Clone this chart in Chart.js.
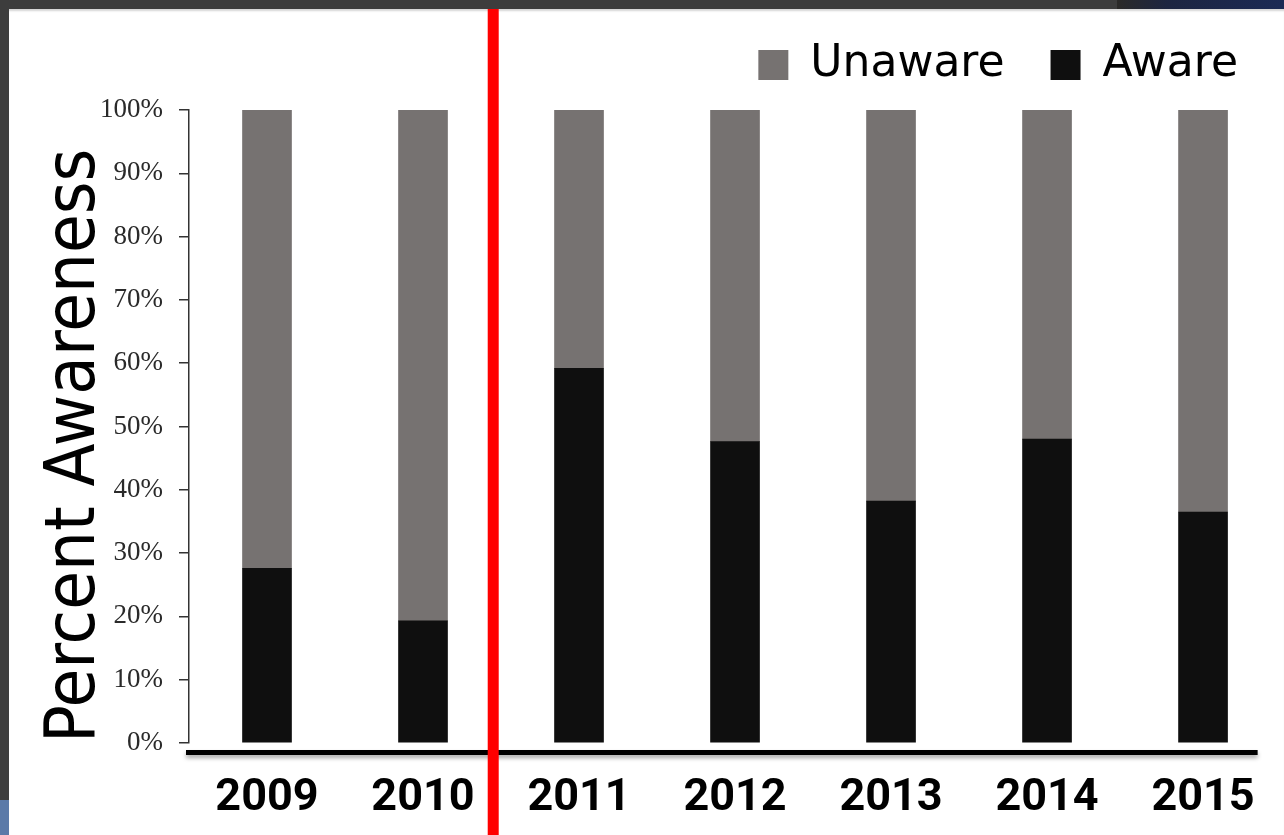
<!DOCTYPE html>
<html>
<head>
<meta charset="utf-8">
<script src="https://cdn.jsdelivr.net/npm/chart.js@4"></script>
<style>
  html, body { margin: 0; padding: 0; }
  body { width: 1284px; height: 835px; background: #3d3d3d; position: relative; overflow: hidden; }
  .strip { position: absolute; left: 0; top: 800px; width: 9px; height: 35px; background: #5b7aa8; }
  .corner { position: absolute; left: 1117px; top: 0; width: 167px; height: 9px; background: linear-gradient(90deg, #2b2a28, #1d2540 30%, #1b2a55); }
  .panel { position: absolute; left: 9px; top: 9px; right: 0; bottom: 0; background: #fff; box-shadow: inset 0 3px 2px -1px #d6d6d6; }
  #chart { position: absolute; left: 0; top: 0; }
</style>
</head>
<body>
<div class="strip"></div>
<div class="corner"></div>
<div class="panel"></div>
<canvas id="chart" width="1284" height="835"></canvas>
<script>
const years = ["2009", "2010", "2011", "2012", "2013", "2014", "2015"];
const aware = [27.6, 19.3, 59.2, 47.6, 38.2, 48.0, 36.5];
const unaware = [72.4, 80.7, 40.8, 52.4, 61.8, 52.0, 63.5];
const yTicks = [0, 10, 20, 30, 40, 50, 60, 70, 80, 90, 100];

const condensed = "'DejaVu Sans Condensed', 'DejaVu Sans', sans-serif";

// thick base line + red divider
const decor = {
  id: "decor",
  afterDatasetsDraw(chart) {
    const { ctx, chartArea, scales } = chart;
    const x = scales.x;
    ctx.save();
    ctx.shadowColor = "rgba(0,0,0,0.35)";
    ctx.shadowBlur = 4;
    ctx.shadowOffsetY = 3;
    ctx.fillStyle = "#000";
    const right = x.getPixelForValue(6.35);
    ctx.fillRect(chartArea.left - 3, chartArea.bottom + 7, right - chartArea.left + 3, 5);
    ctx.restore();

    ctx.save();
    ctx.fillStyle = "#ff0000";
    const rx = x.getPixelForValue(1.45);
    ctx.fillRect(rx - 5.5, 9, 11, chart.height - 9);
    ctx.restore();
  },
};

new Chart(document.getElementById("chart"), {
  type: "bar",
  data: {
    datasets: [
      {
        label: "Aware",
        data: aware.map((v, i) => ({ x: i, y: v })),
        backgroundColor: "#0f0f0f",
      },
      {
        label: "Unaware",
        data: unaware.map((v, i) => ({ x: i, y: v })),
        backgroundColor: "#767271",
      },
    ],
  },
  options: {
    responsive: false,
    animation: false,
    layout: { padding: { left: 18, top: -3, right: 0, bottom: 12 } },
    datasets: { bar: { barThickness: 49 } },
    plugins: {
      legend: {
        position: "top",
        align: "end",
        reverse: true,
        labels: {
          boxWidth: 30,
          boxHeight: 30,
          padding: 46,
          color: "#000",
          font: { family: "'DejaVu Sans', sans-serif", size: 44 },
        },
      },
      tooltip: { enabled: false },
    },
    scales: {
      x: {
        type: "linear",
        offset: false,
        min: -0.5,
        max: 6.519,
        stacked: true,
        grid: { display: false, drawTicks: false },
        border: { display: false },
        afterBuildTicks: (s) => {
          s.ticks = years.map((_, i) => ({ value: i }));
        },
        afterFit: (s) => {
          s.height = 80;
          s.paddingLeft = 0;
          s.paddingRight = 0;
        },
        ticks: {
          callback: (v) => years[v],
          autoSkip: false,
          maxRotation: 0,
          padding: 33,
          color: "#000",
          font: { family: "Roboto, sans-serif", size: 45, weight: "bold", lineHeight: 1 },
        },
      },
      // empty band between the legend and the plot
      spacer: {
        type: "linear",
        position: "top",
        grid: { display: false },
        border: { display: false },
        ticks: { display: false },
        afterFit: (s) => {
          s.height = 13;
        },
      },
      y: {
        stacked: true,
        min: 0,
        max: 100,
        afterFit: (s) => {
          s.width = 171;
        },
        afterBuildTicks: (s) => {
          s.ticks = yTicks.map((v) => ({ value: v }));
        },
        grid: { drawOnChartArea: false, color: "#333", lineWidth: 1.5, tickLength: 10 },
        border: { color: "#333", width: 1.5 },
        ticks: {
          callback: (v) => v + "%",
          padding: 16,
          color: "#2a2a2a",
          font: { family: "'Liberation Serif', serif", size: 27 },
        },
        title: {
          display: true,
          text: "Percent Awareness",
          align: "start",
          color: "#000",
          padding: { top: 16, bottom: 0 },
          font: { family: condensed, size: 70 },
        },
      },
    },
  },
  plugins: [decor],
});
</script>
</body>
</html>
